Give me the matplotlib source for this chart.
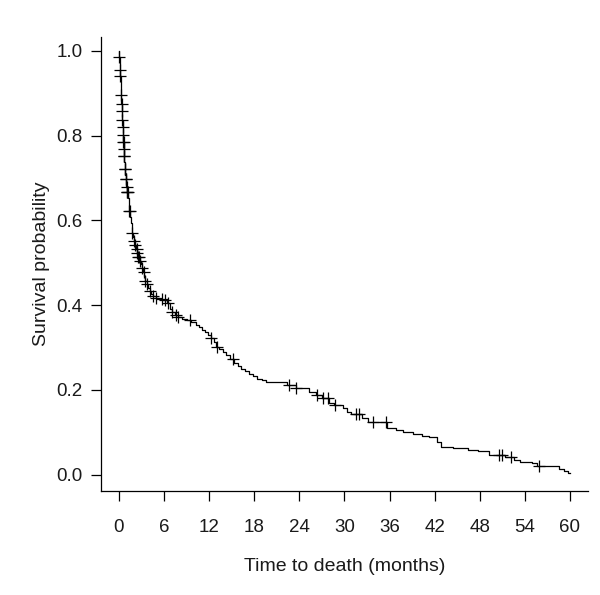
import numpy as np
import matplotlib.pyplot as plt

plt.rcParams["font.family"] = ["Liberation Sans", "DejaVu Sans"]

# Kaplan-Meier estimate: event times (months) and survival after each step
event_times = [0.0, 0.05, 0.1, 0.15, 0.2, 0.25, 0.3, 0.35, 0.4, 0.45, 0.5, 0.55, 0.6,
               0.65, 0.7, 0.75, 0.8, 0.85, 0.9, 0.95, 1.0, 1.1, 1.2, 1.3, 1.4, 1.5,
               1.6, 1.7, 1.8, 1.9, 2.0, 2.15, 2.3, 2.45, 2.6, 2.75, 2.9, 3.05, 3.2,
               3.35, 3.5, 3.7, 3.9, 4.1, 4.3, 4.6, 4.9, 5.3, 5.8, 6.4, 6.8, 7.1, 7.5,
               7.9, 8.4, 9.0, 9.6, 10.2, 10.6, 11.0, 11.4, 11.8, 12.2, 12.6, 12.9,
               13.3, 13.8, 14.3, 14.8, 15.3, 15.8, 16.3, 16.8, 17.3, 17.8, 18.4, 19.0,
               19.6, 22.4, 23.5, 25.3, 26.2, 27.0, 27.9, 28.6, 29.8, 30.3, 30.9, 32.4,
               33.2, 35.6, 36.8, 37.8, 39.1, 40.3, 41.2, 42.3, 42.9, 44.5, 46.5, 47.8,
               49.2, 51.4, 52.6, 53.4, 55.0, 55.6, 58.6, 59.2, 59.7, 60.0]
survival = [1.0, 0.985, 0.97, 0.955, 0.94, 0.915, 0.895, 0.875, 0.857, 0.838, 0.82,
            0.802, 0.785, 0.768, 0.752, 0.738, 0.722, 0.708, 0.697, 0.688, 0.679,
            0.668, 0.654, 0.638, 0.622, 0.607, 0.594, 0.582, 0.571, 0.561, 0.552,
            0.542, 0.532, 0.522, 0.513, 0.505, 0.497, 0.488, 0.478, 0.468, 0.458,
            0.449, 0.44, 0.433, 0.427, 0.421, 0.417, 0.414, 0.412, 0.405, 0.392,
            0.384, 0.378, 0.372, 0.368, 0.364, 0.36, 0.354, 0.348, 0.342, 0.336,
            0.33, 0.323, 0.313, 0.302, 0.296, 0.29, 0.283, 0.272, 0.263, 0.256,
            0.25, 0.244, 0.238, 0.232, 0.227, 0.224, 0.22, 0.212, 0.204, 0.196,
            0.189, 0.18, 0.17, 0.164, 0.158, 0.149, 0.143, 0.135, 0.125, 0.11,
            0.106, 0.102, 0.095, 0.091, 0.088, 0.078, 0.066, 0.062, 0.059, 0.055,
            0.047, 0.042, 0.036, 0.031, 0.027, 0.021, 0.014, 0.009, 0.005, 0.003]

# censored observations (months)
censor_times = [0.08, 0.18, 0.22, 0.3, 0.37, 0.42, 0.47, 0.52, 0.57, 0.6, 0.63, 0.67,
                0.7, 0.74, 0.82, 0.84, 0.9, 0.92, 1.02, 1.1, 1.12, 1.17, 1.4, 1.42,
                1.8, 2.0, 2.2, 2.35, 2.45, 2.6, 2.7, 2.85, 3.05, 3.3, 3.5, 3.8, 4.2,
                4.6, 5.0, 5.7, 6.2, 6.5, 7.1, 7.6, 7.9, 9.4, 12.3, 13.0, 15.2, 22.6,
                23.6, 26.3, 27.1, 27.8, 28.7, 31.5, 31.9, 33.8, 35.5, 50.5, 50.9,
                52.2, 55.9]

x_ticks = [0, 6, 12, 18, 24, 30, 36, 42, 48, 54, 60]
y_ticks = [0.0, 0.2, 0.4, 0.6, 0.8, 1.0]

fig = plt.figure(figsize=(6, 5.95), dpi=100)
ax = fig.add_axes([0.168, 0.175, 0.812, 0.763])

ax.step(event_times, survival, where="post", color="black", lw=0.9)

idx = np.searchsorted(event_times, censor_times, side="right") - 1
censor_surv = np.array(survival)[idx]
ax.plot(censor_times, censor_surv, linestyle="none", marker="+", color="black",
        markersize=9, markeredgewidth=0.9)

ax.set_xlim(-2.4, 62.4)
ax.set_ylim(-0.038, 1.033)
ax.set_xticks(x_ticks)
ax.set_yticks(y_ticks)
ax.set_yticklabels([f"{v:.1f}" for v in y_ticks])
ax.spines["top"].set_visible(False)
ax.spines["right"].set_visible(False)
for s in ["left", "bottom"]:
    ax.spines[s].set_linewidth(0.9)
ax.tick_params(axis="both", direction="out", length=7, width=0.9, labelsize=13.5,
               labelcolor="#1a1a1a")
ax.tick_params(axis="x", pad=13)
ax.tick_params(axis="y", pad=6)

ax.set_xlabel("Time to death (months)", fontsize=14, labelpad=16, color="#1a1a1a")
ax.set_ylabel("Survival probability", fontsize=14, labelpad=5, color="#1a1a1a")

fig.savefig("out.png", dpi=100)
